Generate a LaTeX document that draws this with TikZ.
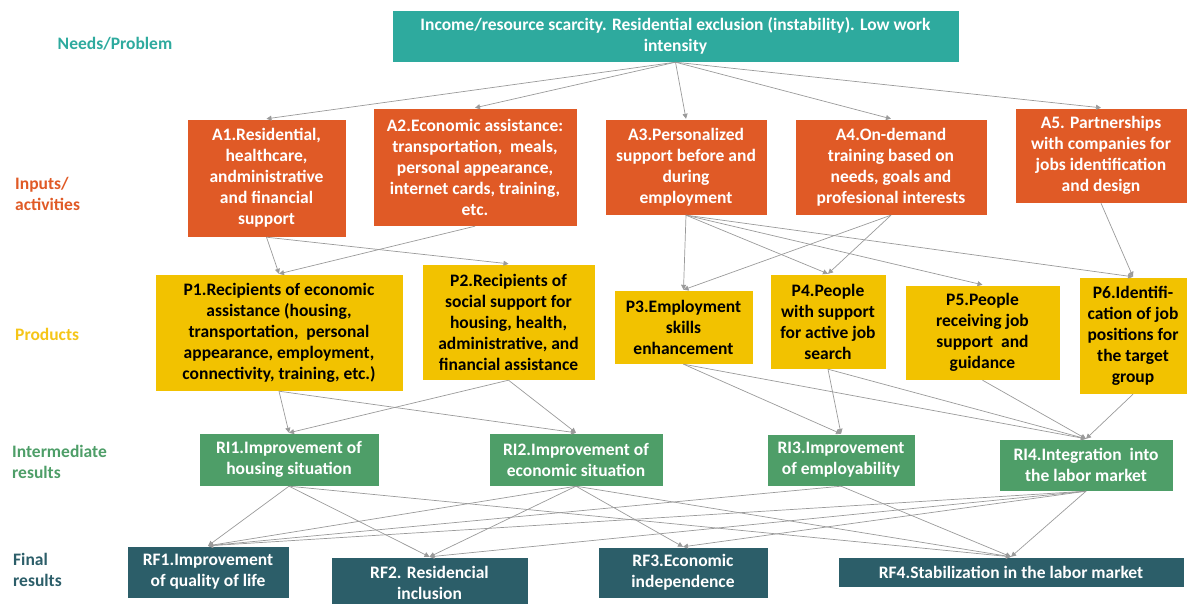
\documentclass[tikz,border=0pt]{standalone}
\usepackage{fontspec}
\setmainfont{Carlito}
\usetikzlibrary{arrows.meta}
\definecolor{cteal}{HTML}{2EAA9E}
\definecolor{corange}{HTML}{E05A26}
\definecolor{cyellow}{HTML}{F2C200}
\definecolor{cgreen}{HTML}{4E9E68}
\definecolor{cdark}{HTML}{2C5E69}
\definecolor{cline}{HTML}{9A9A9A}
\definecolor{clabyellow}{HTML}{F5C518}
\begin{document}
\begin{tikzpicture}[x=1pt,y=-1pt,
  txt/.style={font=\fontsize{17.5}{21}\selectfont\bfseries, align=center, inner sep=0pt},
  box/.style={txt, rectangle, draw=white, line width=0.4pt},
  nbox/.style={box, fill=cteal, text=white},
  abox/.style={box, fill=corange, text=white},
  pbox/.style={box, fill=cyellow, text=black},
  ribox/.style={box, fill=cgreen, text=white},
  rfbox/.style={box, fill=cdark, text=white},
  lbl/.style={font=\fontsize{17.5}{21}\selectfont\bfseries, align=left, inner sep=0pt, anchor=west},
  conn/.style={draw=cline, line width=0.7pt, -{Triangle[length=5pt,width=5pt]}}
]
\useasboundingbox (0,0) rectangle (1187,604);

% side labels
\node[lbl, anchor=center, text=cteal] (LN) at (115,44) {Needs/Problem};
\node[lbl, text=corange] (LA) at (15,193.5) {Inputs/\\activities};
\node[lbl, text=clabyellow] (LP) at (15,334) {Products};
\node[lbl, text=cgreen] (LI) at (12,462) {Intermediate\\results};
\node[lbl, text=cdark] (LF) at (13,570) {Final\\results};

% needs
\node[nbox, minimum width=567pt, minimum height=52pt] (N) at (675.5,36)
  {Income/resource scarcity. Residential exclusion (instability). Low work\\intensity};

% activities
\node[abox, minimum width=159pt, minimum height=118pt] (A1) at (266.5,178)
  {A1.Residential,\\healthcare,\\andministrative\\and financial\\support};
\node[abox, minimum width=204pt, minimum height=118pt] (A2) at (475,167)
  {A2.Economic assistance:\\transportation,\ \ meals,\\personal appearance,\\internet cards, training,\\etc.};
\node[abox, minimum width=162pt, minimum height=96pt] (A3) at (686,167)
  {A3.Personalized\\support before and\\during\\employment};
\node[abox, minimum width=192pt, minimum height=96pt] (A4) at (891,167)
  {A4.On-demand\\training based on\\needs, goals and\\profesional interests};
\node[abox, minimum width=172pt, minimum height=95pt] (A5) at (1101,155.5)
  {A5. Partnerships\\with companies for\\jobs identification\\and design};

% products
\node[pbox, minimum width=248pt, minimum height=117pt] (P1) at (279,332.5)
  {P1.Recipients of economic\\assistance (housing,\\transportation,\ \ personal\\appearance, employment,\\connectivity, training, etc.)};
\node[pbox, minimum width=173pt, minimum height=116pt] (P2) at (508.5,322)
  {P2.Recipients of\\social support for\\housing, health,\\administrative, and\\financial assistance};
\node[pbox, minimum width=139pt, minimum height=74pt] (P3) at (683.5,327)
  {P3.Employment\\skills\\enhancement};
\node[pbox, minimum width=116pt, minimum height=95pt] (P4) at (828,321.5)
  {P4.People\\with support\\for active job\\search};
\node[pbox, minimum width=155pt, minimum height=95pt] (P5) at (982.5,332.5)
  {P5.People\\receiving job\\support\ \ and\\guidance};
\node[pbox, minimum width=108pt, minimum height=117pt] (P6) at (1133,335.5)
  {P6.Identifi-\\cation of job\\positions for\\the target\\group};

% intermediate results
\node[ribox, minimum width=180pt, minimum height=53pt] (RI1) at (289,459.5)
  {RI1.Improvement of\\housing situation};
\node[ribox, minimum width=174pt, minimum height=53pt] (RI2) at (576,459.5)
  {RI2.Improvement of\\economic situation};
\node[ribox, minimum width=148pt, minimum height=52pt] (RI3) at (841,460)
  {RI3.Improvement\\of employability};
\node[ribox, minimum width=174pt, minimum height=52pt] (RI4) at (1086,465)
  {RI4.Integration\ \ into\\the labor market};

% final results
\node[rfbox, minimum width=162pt, minimum height=52pt] (RF1) at (208,572)
  {RF1.Improvement\\of quality of life};
\node[rfbox, minimum width=197pt, minimum height=52pt] (RF2) at (429.5,583)
  {RF2. Residencial\\inclusion};
\node[rfbox, minimum width=170pt, minimum height=51pt] (RF3) at (683,572.5)
  {RF3.Economic\\independence};
\node[rfbox, minimum width=346pt, minimum height=30pt] (RF4) at (1011,572)
  {RF4.Stabilization in the labor market};

% connectors
\foreach \a/\b in {N/A1,N/A2,N/A3,N/A4,N/A5,
  A1/P1,A1/P2,A2/P1,A3/P3,A3/P4,A3/P5,A3/P6,A4/P3,A4/P4,A5/P6,
  P1/RI1,P1/RI2,P2/RI1,P2/RI2,P3/RI3,P3/RI4,P4/RI3,P4/RI4,P5/RI4,P6/RI4,
  RI1/RF1,RI1/RF2,RI1/RF4,RI2/RF1,RI2/RF2,RI2/RF3,RI2/RF4,
  RI3/RF1,RI3/RF4,RI4/RF1,RI4/RF2,RI4/RF3,RI4/RF4}
  \draw[conn] (\a.south) -- (\b.north);
\end{tikzpicture}
\end{document}
